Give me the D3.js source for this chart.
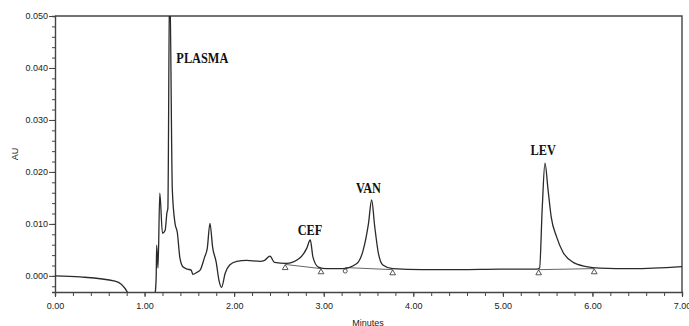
<!DOCTYPE html>
<html>
<head>
  <script src="https://d3js.org/d3.v7.min.js"></script>
  <style>
    body { margin: 0; background: #fff; }
    .tick-label { font-family: 'Liberation Sans', Arial, sans-serif; font-size: 9px; fill: #222; }
    .peak-label { font-family: 'Liberation Serif', 'Times New Roman', serif; font-size: 15px; font-weight: bold; fill: #111; }
  </style>
</head>
<body>
  <svg id="chart" width="689" height="326"></svg>
  <script>
    const width = 689;
    const height = 326;
    const margin = { left: 55, right: 7, top: 16, bottom: 34 };

    // chromatogram trace (minutes, AU)
    const minutes = [0.00, 0.28, 0.67, 0.74, 0.81, 0.85, 1.10, 1.12, 1.13, 1.135, 1.15, 1.17, 1.20, 1.23, 1.25, 1.26, 1.28,
      1.31, 1.34, 1.365, 1.395, 1.43, 1.48, 1.52, 1.54, 1.585, 1.62, 1.67, 1.70, 1.73, 1.76, 1.80, 1.83, 1.86, 1.90,
      1.95, 2.03, 2.14, 2.29, 2.34, 2.40, 2.45, 2.58, 2.73, 2.81, 2.85, 2.88, 2.94, 3.03, 3.21, 3.37, 3.44, 3.50,
      3.535, 3.57, 3.61, 3.66, 3.77, 4.10, 4.52, 4.97, 5.38, 5.41, 5.44, 5.47, 5.505, 5.54, 5.60, 5.67, 5.785, 5.93,
      6.08, 6.45, 7.00];
    const au = [0.0000, -0.0002, -0.0010, -0.0016, -0.0032, -0.0050, -0.0050, -0.0031, 0.0001, 0.0059, 0.0015, 0.0159, 0.0082, 0.0088, 0.0122, 0.0130, 0.0580,
      0.0165, 0.0101, 0.0084, 0.0034, 0.0017, 0.0013, 0.0011, 0.0003, 0.0007, 0.0011, 0.0036, 0.0053, 0.0101, 0.0055, 0.0026, -0.0008, -0.0022, 0.0005,
      0.0021, 0.0028, 0.0030, 0.0028, 0.0030, 0.0038, 0.0026, 0.0024, 0.0034, 0.0053, 0.0069, 0.0036, 0.0017, 0.0014, 0.0014, 0.0024, 0.0049, 0.0101,
      0.0146, 0.0094, 0.0044, 0.0021, 0.0014, 0.0012, 0.0012, 0.0013, 0.0013, 0.0015, 0.0132, 0.0217, 0.0165, 0.0113, 0.0075, 0.0046, 0.0026, 0.0018,
      0.0015, 0.0014, 0.0018];

    // integration baselines and their start/end marks
    const baseStart = [2.57, 3.24, 5.40];
    const baseEnd = [2.97, 3.77, 6.02];
    const baseStartAu = [0.0022, 0.0016, 0.0012];
    const baseEndAu = [0.0014, 0.0012, 0.0014];
    const markKind = ["tri", "circle", "tri"];

    // peak names
    const peakNames = ["PLASMA", "CEF", "VAN", "LEV"];
    const peakTime = [1.355, 2.71, 3.36, 5.31];
    const peakAu = [0.0409, 0.0078, 0.0159, 0.0232];

    const xTicks = [0, 1, 2, 3, 4, 5, 6, 7];
    const yTicks = [0, 0.01, 0.02, 0.03, 0.04, 0.05];

    const svg = d3.select("#chart");

    const x = d3.scaleLinear().domain([0, 7]).range([margin.left, width - margin.right]);
    const y = d3.scaleLinear().domain([-0.0031, 0.050]).range([height - margin.bottom, margin.top]);

    svg.append("defs").append("clipPath").attr("id", "plotClip")
      .append("rect")
      .attr("x", x(0)).attr("y", y(0.050))
      .attr("width", x(7) - x(0)).attr("height", y(-0.0031) - y(0.050));

    // frame: top and right
    svg.append("path")
      .attr("d", `M${x(0)},${y(0.050)} H${x(7)} V${y(-0.0031)}`)
      .attr("fill", "none").attr("stroke", "#444").attr("stroke-width", 1.4);

    // x axis
    const xAxis = svg.append("g").attr("transform", `translate(0,${y(-0.0031)})`);
    xAxis.append("g")
      .call(d3.axisBottom(x).ticks(35).tickSize(4).tickFormat(""))
      .call(g => g.select(".domain").attr("stroke", "#444").attr("stroke-width", 1.4))
      .call(g => g.selectAll(".tick line").attr("stroke", "#444"));
    xAxis.append("g")
      .call(d3.axisBottom(x).tickValues(xTicks).tickSize(5).tickFormat(d3.format(".2f")))
      .call(g => g.select(".domain").remove())
      .call(g => g.selectAll(".tick line").attr("stroke", "#444"))
      .call(g => g.selectAll(".tick text").attr("class", "tick-label").attr("dy", "1.05em").attr("font-size", null).attr("font-family", null));

    // y axis
    const yAxis = svg.append("g").attr("transform", `translate(${x(0)},0)`);
    yAxis.append("g")
      .call(d3.axisLeft(y).tickValues(d3.range(-0.002, 0.0501, 0.002)).tickSize(3).tickFormat(""))
      .call(g => g.select(".domain").attr("stroke", "#444").attr("stroke-width", 1.4))
      .call(g => g.selectAll(".tick line").attr("stroke", "#444"));
    yAxis.append("g")
      .call(d3.axisLeft(y).tickValues(yTicks).tickSize(6).tickPadding(1).tickFormat(d3.format(".3f")))
      .call(g => g.select(".domain").remove())
      .call(g => g.selectAll(".tick line").attr("stroke", "#444"))
      .call(g => g.selectAll(".tick text").attr("class", "tick-label").attr("font-size", null).attr("font-family", null));

    // axis titles
    svg.append("text")
      .attr("class", "tick-label")
      .attr("transform", `translate(18,${(y(0.050) + y(-0.0031)) / 2}) rotate(-90)`)
      .attr("text-anchor", "middle")
      .text("AU");
    svg.append("text")
      .attr("class", "tick-label")
      .attr("x", 368).attr("y", 326)
      .attr("text-anchor", "middle")
      .text("Minutes");

    const plot = svg.append("g").attr("clip-path", "url(#plotClip)");

    // integration baselines
    plot.selectAll(".baseline")
      .data(baseStart)
      .enter()
      .append("line")
      .attr("x1", (d, i) => x(d)).attr("y1", (d, i) => y(baseStartAu[i]))
      .attr("x2", (d, i) => x(baseEnd[i])).attr("y2", (d, i) => y(baseEndAu[i]))
      .attr("stroke", "#666").attr("stroke-width", 1);

    // trace
    const points = minutes.map((m, i) => [m, au[i]]);
    plot.append("path")
      .datum(points)
      .attr("fill", "none")
      .attr("stroke", "#2a2a2a")
      .attr("stroke-width", 1.3)
      .attr("stroke-linejoin", "round")
      .attr("d", d3.line().x(d => x(d[0])).y(d => y(d[1])).curve(d3.curveMonotoneX));

    // baseline marks
    const marks = [];
    baseStart.forEach((t, i) => {
      marks.push({ t: t, v: baseStartAu[i], kind: markKind[i] });
      marks.push({ t: baseEnd[i], v: baseEndAu[i], kind: "tri" });
    });
    const markG = plot.selectAll(".mark")
      .data(marks)
      .enter()
      .append("g")
      .attr("transform", d => `translate(${x(d.t)},${y(d.v) + 3.5})`);
    markG.filter(d => d.kind === "tri")
      .append("path")
      .attr("d", d3.symbol(d3.symbolTriangle, 14)())
      .attr("fill", "#fff").attr("stroke", "#444").attr("stroke-width", 0.9);
    markG.filter(d => d.kind === "circle")
      .append("circle")
      .attr("r", 2)
      .attr("fill", "#fff").attr("stroke", "#444").attr("stroke-width", 0.9);

    // peak labels
    svg.selectAll(".peak-label")
      .data(peakNames)
      .enter()
      .append("text")
      .attr("class", "peak-label")
      .attr("transform", (d, i) => `translate(${x(peakTime[i])},${y(peakAu[i])}) scale(0.82,1)`)
      .text(d => d);
  </script>
</body>
</html>
